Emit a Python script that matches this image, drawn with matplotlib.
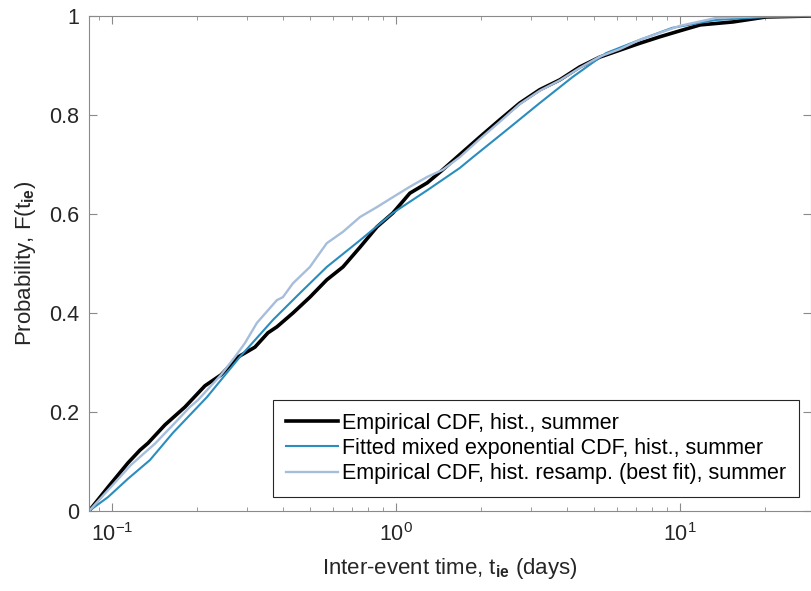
"""Empirical and fitted CDFs of inter-event times (summer)."""
import matplotlib
matplotlib.use("Agg")
import matplotlib.pyplot as plt
from matplotlib.ticker import LogLocator, FixedLocator, NullFormatter

# Empirical CDF, hist., summer
emp_x = [0.083, 0.0968, 0.1138, 0.1255, 0.1339, 0.1537, 0.1807, 0.2126,
         0.2421, 0.2778, 0.3188, 0.3544, 0.381, 0.434, 0.498, 0.571, 0.651,
         0.748, 0.858, 0.976, 1.12, 1.29, 1.46, 1.68, 1.98, 2.32, 2.73,
         3.21, 3.78, 4.44, 5.23, 6.15, 7.24, 8.51, 10.0, 11.8, 15.4, 20.1,
         29.0]
emp_y = [0.0, 0.048, 0.097, 0.123, 0.137, 0.174, 0.210, 0.253, 0.275,
         0.311, 0.331, 0.360, 0.372, 0.400, 0.432, 0.467, 0.493, 0.533,
         0.574, 0.602, 0.642, 0.663, 0.689, 0.720, 0.756, 0.790, 0.824,
         0.851, 0.871, 0.897, 0.917, 0.931, 0.945, 0.958, 0.970, 0.982,
         0.988, 0.998, 1.0]

# Fitted mixed exponential CDF, hist., summer
fit_x = [0.083, 0.0968, 0.1138, 0.1361, 0.164, 0.216, 0.282, 0.369, 0.459,
         0.571, 0.748, 0.976, 1.29, 1.68, 1.87, 2.46, 3.21, 4.2, 5.5, 7.24,
         9.4, 13.4, 20.1, 29.0]
fit_y = [0.0, 0.028, 0.065, 0.103, 0.158, 0.230, 0.311, 0.386, 0.440,
         0.493, 0.547, 0.602, 0.648, 0.693, 0.715, 0.770, 0.824, 0.877,
         0.925, 0.952, 0.976, 0.992, 0.998, 1.0]

# Empirical CDF, hist. resamp. (best fit), summer
res_x = [0.083, 0.0968, 0.1166, 0.1417, 0.1666, 0.188, 0.2007, 0.2421,
         0.2709, 0.2938, 0.324, 0.381, 0.400, 0.434, 0.498, 0.527, 0.571,
         0.651, 0.748, 0.858, 0.976, 1.12, 1.29, 1.46, 1.68, 1.98, 2.32,
         2.73, 3.21, 3.78, 4.44, 5.23, 6.15, 7.24, 8.51, 10.0, 13.4, 20.1,
         29.0]
res_y = [0.0, 0.042, 0.093, 0.136, 0.178, 0.210, 0.224, 0.275, 0.311,
         0.339, 0.380, 0.426, 0.432, 0.460, 0.493, 0.513, 0.541, 0.564,
         0.594, 0.614, 0.634, 0.655, 0.675, 0.689, 0.715, 0.752, 0.786,
         0.822, 0.849, 0.870, 0.895, 0.918, 0.933, 0.952, 0.966, 0.980,
         0.996, 1.0, 1.0]

y_ticks = [0, 0.2, 0.4, 0.6, 0.8, 1]
y_tick_labels = ["0", "0.2", "0.4", "0.6", "0.8", "1"]
x_ticks = [0.1, 1, 10]
x_tick_labels = ["$10^{-1}$", "$10^{0}$", "$10^{1}$"]

plt.rcParams["font.family"] = ["Liberation Sans", "DejaVu Sans"]
plt.rcParams["mathtext.fontset"] = "custom"
plt.rcParams["mathtext.rm"] = "Liberation Sans"
plt.rcParams["mathtext.it"] = "Liberation Sans"
plt.rcParams["mathtext.bf"] = "Liberation Sans:bold"

AX_GRAY = "#8a8a8a"
TXT = "#262626"

fig = plt.figure(figsize=(8.12, 5.91), dpi=100)
ax = fig.add_axes([89 / 812, 80 / 591, 722 / 812, 495 / 591])

ax.plot(emp_x, emp_y, color="black", lw=2.6,
        label="Empirical CDF, hist., summer")
ax.plot(fit_x, fit_y, color="#2b8cbe", lw=1.5,
        label="Fitted mixed exponential CDF, hist., summer")
ax.plot(res_x, res_y, color="#a6bddb", lw=1.7,
        label="Empirical CDF, hist. resamp. (best fit), summer")

ax.set_xscale("log")
ax.set_xlim(0.083, 29)
ax.set_ylim(0, 1)

ax.xaxis.set_major_locator(FixedLocator(x_ticks))
ax.set_xticklabels(x_tick_labels)
ax.xaxis.set_minor_locator(LogLocator(base=10, subs=range(2, 10)))
ax.xaxis.set_minor_formatter(NullFormatter())
ax.set_yticks(y_ticks)
ax.set_yticklabels(y_tick_labels)

ax.tick_params(which="both", direction="in", top=True, right=True,
               color=AX_GRAY, labelsize=15.5, labelcolor=TXT)
ax.tick_params(which="major", length=6)
ax.tick_params(which="minor", length=3)
ax.tick_params(axis="x", pad=9)
ax.tick_params(axis="y", pad=7)
for spine in ax.spines.values():
    spine.set_color(AX_GRAY)

ax.set_xlabel("Inter-event time, t$_{\\mathbf{ie}}$ (days)", fontsize=16,
              color=TXT, labelpad=7)
ax.set_ylabel("Probability, F(t$_{\\mathbf{ie}}$)", fontsize=16,
              color=TXT, labelpad=8)

leg = ax.legend(loc="lower right", bbox_to_anchor=(0.983, 0.028),
                fontsize=15.5, fancybox=False, framealpha=1,
                edgecolor=TXT, handlelength=2.45, handletextpad=0.15,
                borderpad=0.6, labelspacing=0.2, borderaxespad=0)
leg.get_frame().set_linewidth(0.8)

fig.savefig("out.png", dpi=100, facecolor="w")
